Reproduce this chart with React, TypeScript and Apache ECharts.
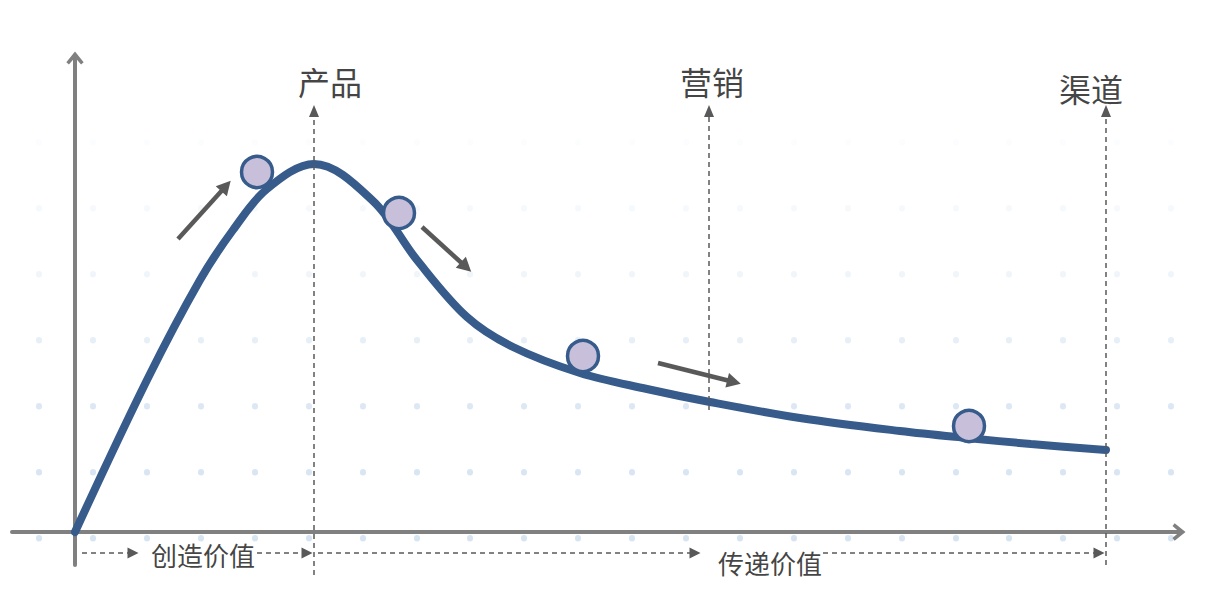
import { useEffect, useRef } from 'react'
import * as echarts from 'echarts'

// curve of value over time (x: px-like units from origin, y: height above axis)
const curveX = [0, 72, 125, 158, 192, 239, 298, 342, 392, 438, 505, 572, 635, 725, 825, 892, 956, 1031]
const curveY = [0, 152, 252, 302, 343, 368, 331, 272, 215, 185, 159, 143, 130, 114, 101, 94, 88, 82]

// balls rolling on the curve
const ballX = [182, 324, 508, 894]
const ballY = [360, 319, 176, 106]

// stage guides
const stageNames = ['产品', '营销', '渠道']
const stageX = [239, 634, 1031]
const stageBottom = [-43, 122, -33]
const stageTop = 421
const stageLabelX = [255, 637, 1016]
const stageLabelY = [451, 451, 444]

// value flow along the bottom
const flowNames = ['创造价值', '传递价值']
const flowLabelX = [128, 695]
const flowLabelY = [-22, -30]
const flowSegStart = [7, 182, 243, 748]
const flowSegEnd = [58, 232, 620, 1024]
const flowY = -21

// motion arrows next to the balls: [x1, y1, x2, y2]
const motionArrows = [
  [103, 293, 151, 346],
  [347, 305, 391, 265],
  [583, 169, 659, 150],
]

const AXIS_GRAY = '#808080'
const CURVE_BLUE = '#375b8b'
const INK = '#595959'
const FONT = "'Noto Sans CJK SC', 'Noto Sans', sans-serif"
const CHEVRON = 'path://M6,0L12,7.5L10.2,9L6,4.2L1.8,9L0,7.5Z'

const off = { show: false }

export default function App() {
  const elRef = useRef<HTMLDivElement | null>(null)

  useEffect(() => {
    document.body.style.margin = '0'
    if (!elRef.current) return
    const chart = echarts.init(elRef.current, null, { renderer: 'svg' })

    const axisLine = {
      onZero: true,
      symbol: ['none', CHEVRON],
      symbolSize: [20, 13],
      lineStyle: { color: AXIS_GRAY, width: 4 },
    }

    const dotColor = new echarts.graphic.LinearGradient(
      0, 142, 0, 604,
      [
        { offset: 0, color: 'rgba(212,226,241,0.08)' },
        { offset: 0.3, color: 'rgba(212,226,241,0.35)' },
        { offset: 0.6, color: 'rgba(212,226,241,0.85)' },
        { offset: 1, color: 'rgba(212,226,241,1)' },
      ],
      true,
    )

    const option = {
      animation: false,
      backgroundColor: '#ffffff',
      grid: [
        { left: 12, top: 58, width: 1167, height: 507 },
        { left: 39, top: 142, width: 1131.9, height: 462 },
        { left: 0, top: 0, width: 1212, height: 604 },
      ],
      xAxis: [
        { gridIndex: 0, type: 'value', min: -63, max: 1104, axisLine, axisTick: off, axisLabel: off, splitLine: off },
        {
          gridIndex: 1, type: 'value', min: 0, max: 21, interval: 1,
          axisLine: off, axisTick: off, axisLabel: off,
          splitLine: { show: true, lineStyle: { type: [0.5, 65.5], width: 6, cap: 'round', color: dotColor } },
        },
        { gridIndex: 2, type: 'value', min: -75, max: 1137, show: false },
      ],
      yAxis: [
        { gridIndex: 0, type: 'value', min: -33, max: 474, axisLine, axisTick: off, axisLabel: off, splitLine: off },
        { gridIndex: 1, type: 'value', min: 0, max: 1, show: false },
        { gridIndex: 2, type: 'value', min: -72, max: 532, show: false },
      ],
      series: [
        {
          name: '价值曲线',
          type: 'line',
          xAxisIndex: 0,
          yAxisIndex: 0,
          data: curveX.map((x, i) => [x, curveY[i]]),
          smooth: 0.35,
          symbol: 'none',
          silent: true,
          z: 3,
          lineStyle: { color: CURVE_BLUE, width: 8, cap: 'round' },
        },
        {
          name: '阶段',
          type: 'line',
          xAxisIndex: 2,
          yAxisIndex: 2,
          data: [],
          z: 4,
          markLine: {
            silent: true,
            symbol: ['none', 'triangle'],
            symbolSize: [10, 12],
            label: off,
            lineStyle: { type: [5, 4], width: 1.5, color: INK },
            data: stageX.map((x, i) => [{ coord: [x, stageBottom[i]] }, { coord: [x, stageTop] }]),
          },
        },
        {
          name: '价值流',
          type: 'line',
          xAxisIndex: 2,
          yAxisIndex: 2,
          data: [],
          z: 4,
          markLine: {
            silent: true,
            symbol: ['none', 'triangle'],
            symbolSize: [11, 11],
            label: off,
            lineStyle: { type: [5, 4], width: 1.5, color: INK },
            data: flowSegStart.map((x, i) => [{ coord: [x, flowY] }, { coord: [flowSegEnd[i], flowY] }]),
          },
        },
        {
          name: '运动',
          type: 'line',
          xAxisIndex: 2,
          yAxisIndex: 2,
          data: [],
          z: 4,
          markLine: {
            silent: true,
            symbol: ['none', 'triangle'],
            symbolSize: [15, 14],
            label: off,
            lineStyle: { type: 'solid', width: 4.5, color: INK },
            data: motionArrows.map((a) => [{ coord: [a[0], a[1]] }, { coord: [a[2], a[3]] }]),
          },
        },
        {
          name: '小球',
          type: 'scatter',
          xAxisIndex: 0,
          yAxisIndex: 0,
          data: ballX.map((x, i) => [x, ballY[i]]),
          symbolSize: 31,
          silent: true,
          z: 5,
          itemStyle: { color: '#c8c0db', borderColor: CURVE_BLUE, borderWidth: 3.5, opacity: 1 },
        },
        {
          name: '阶段标签',
          type: 'scatter',
          xAxisIndex: 2,
          yAxisIndex: 2,
          symbolSize: 1,
          silent: true,
          z: 6,
          itemStyle: { color: 'transparent' },
          label: { show: true, position: 'inside', formatter: '{b}', color: '#111111', fontSize: 32, fontFamily: FONT, fontWeight: 'normal' },
          data: stageNames.map((n, i) => ({ name: n, value: [stageLabelX[i], stageLabelY[i]] })),
        },
        {
          name: '价值标签',
          type: 'scatter',
          xAxisIndex: 2,
          yAxisIndex: 2,
          symbolSize: 1,
          silent: true,
          z: 6,
          itemStyle: { color: 'transparent' },
          label: { show: true, position: 'inside', formatter: '{b}', color: '#111111', fontSize: 26, fontFamily: FONT, fontWeight: 'normal' },
          data: flowNames.map((n, i) => ({ name: n, value: [flowLabelX[i], flowLabelY[i]] })),
        },
      ],
    } as echarts.EChartsOption

    chart.setOption(option)
    return () => {
      chart.dispose()
    }
  }, [])

  return <div ref={elRef} style={{ width: 1212, height: 604 }} />
}
